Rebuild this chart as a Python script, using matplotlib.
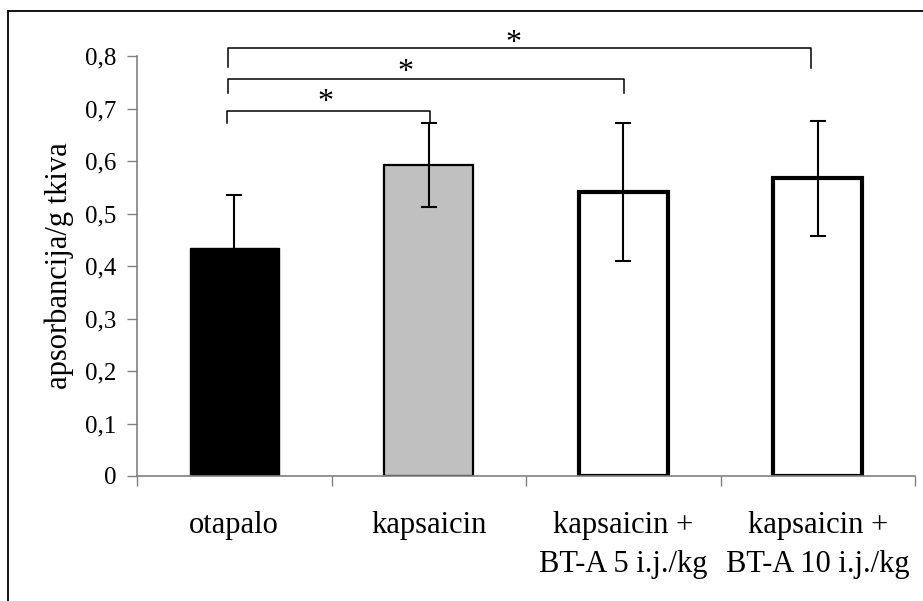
import numpy as np
import matplotlib
matplotlib.use('Agg')
import matplotlib.pyplot as plt
from matplotlib.lines import Line2D

plt.rcParams['font.family'] = ['Liberation Serif', 'DejaVu Serif']

groups = ['otapalo', 'kapsaicin', 'kapsaicin +\nBT-A 5 i.j./kg',
          'kapsaicin +\nBT-A 10 i.j./kg']
means = [0.435, 0.592, 0.541, 0.567]
errors = [0.100, 0.080, 0.131, 0.110]
yticks = [0, 0.1, 0.2, 0.3, 0.4, 0.5, 0.6, 0.7, 0.8]
ylabels = ['0', '0,1', '0,2', '0,3', '0,4', '0,5', '0,6', '0,7', '0,8']

fig = plt.figure(figsize=(9.23, 6.01), dpi=100)
ax = fig.add_axes([137 / 923, 1 - 476 / 601, (915 - 137) / 923, (476 - 56) / 601])

x = np.arange(len(groups))
faces = ['black', '#C0C0C0', 'white', 'white']
edge_w = [1.0, 1.6, 3.0, 3.0]
ax.bar(x, means, width=0.46, color=faces, edgecolor='black',
       linewidth=edge_w, zorder=2)
ax.errorbar(x, means, yerr=errors, fmt='none', ecolor='black',
            elinewidth=1.5, capsize=5.8, capthick=1.5, zorder=3)

ax.set_xlim(-0.5, 3.5)
ax.set_ylim(0, 0.8)
ax.set_yticks(yticks)
ax.set_yticklabels(ylabels, fontsize=18)
ax.set_xticks(np.arange(-0.5, 4, 1.0))
ax.set_xticklabels([])
ax.set_xticks(x, minor=True)
ax.set_xticklabels(groups, minor=True, fontsize=22, linespacing=1.45)
ax.tick_params(axis='x', which='minor', length=0, pad=25)
ax.tick_params(axis='x', which='major', direction='out', length=7,
               color='#808080', width=1)
ax.tick_params(axis='y', direction='out', length=7, color='#808080',
               width=1, pad=8)
for s in ['top', 'right']:
    ax.spines[s].set_visible(False)
for s in ['left', 'bottom']:
    ax.spines[s].set_color('#808080')
    ax.spines[s].set_linewidth(1.2)
ax.set_ylabel('apsorbancija/g tkiva', fontsize=22, labelpad=8)

# significance brackets
brackets = [(-0.037, 1.006, 0.695, 0.672, 0.672),
            (-0.032, 2.004, 0.756, 0.730, 0.730),
            (-0.032, 2.965, 0.815, 0.779, 0.777)]
for x0, x1, top, l0, l1 in brackets:
    ax.plot([x0, x0, x1, x1], [l0, top, top, l1], color='black', lw=1.1,
            clip_on=False, zorder=4)
stars = [(0.467, 0.712), (0.878, 0.769), (1.433, 0.824)]
for sx, sy in stars:
    ax.text(sx, sy, '*', ha='center', va='center', fontsize=23,
            clip_on=False)

# outer frame
fig.add_artist(Line2D([8 / 923, 8 / 923], [0, 1 - 11 / 601],
                      transform=fig.transFigure, color='black', lw=1.3))
fig.add_artist(Line2D([8 / 923, 1], [1 - 11 / 601, 1 - 11 / 601],
                      transform=fig.transFigure, color='black', lw=1.3))

fig.savefig('out.png', dpi=100)
